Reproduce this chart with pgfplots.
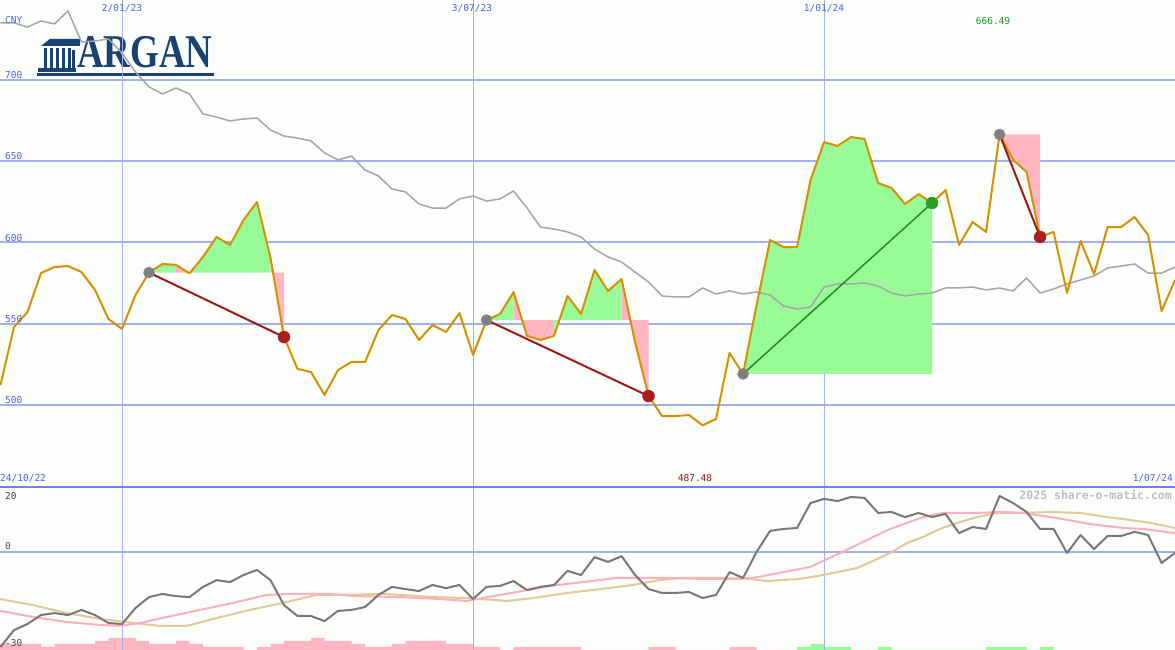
\documentclass[border=0pt]{standalone}
\usepackage{fontspec}
\setmainfont{DejaVu Sans}
\setmonofont{DejaVu Sans Mono}
\newfontfamily\logofont{Liberation Serif}
\usepackage{graphicx}
\usepackage{pgfplots}
\pgfplotsset{compat=1.18}
\definecolor{bg}{RGB}{252,254,252}
\definecolor{gridblue}{RGB}{160,176,240}
\definecolor{divblue}{RGB}{112,128,240}
\definecolor{lblblue}{RGB}{80,96,240}
\definecolor{price}{RGB}{214,144,0}
\definecolor{ma}{RGB}{165,165,165}
\definecolor{gfill}{RGB}{152,251,152}
\definecolor{pfill}{RGB}{255,182,193}
\definecolor{tred}{RGB}{160,24,24}
\definecolor{tgreen}{RGB}{34,139,34}
\definecolor{dotgray}{RGB}{128,128,128}
\definecolor{dotred}{RGB}{170,30,30}
\definecolor{dotgreen}{RGB}{40,160,40}
\definecolor{osc}{RGB}{120,120,120}
\definecolor{mapink}{RGB}{250,175,190}
\definecolor{matan}{RGB}{226,200,150}
\definecolor{logo}{RGB}{25,65,115}
\definecolor{wm}{RGB}{190,190,190}
\definecolor{lbl}{RGB}{70,70,70}
\definecolor{minred}{RGB}{160,20,20}
\definecolor{maxgreen}{RGB}{30,150,30}

\pgfplotsset{
  panel/.style={
    scale only axis, width=1175pt,
    xmin=-9.037, xmax=78.0,
    axis line style={draw=none},
    major tick length=0pt, tick style={draw=none},
    xticklabels={}, yticklabels={},
    xtick={0,52},
    extra x ticks={26}, extra x tick labels={},
    extra x tick style={grid style={line width=2pt, color=gridblue}},
    xmajorgrids, ymajorgrids,
    x grid style={line width=1pt, color=gridblue},
    y grid style={line width=2pt, color=gridblue},
    every axis plot/.append style={line join=round},
  }
}

\begin{document}
\begin{tikzpicture}
\fill[bg] (0pt,0pt) rectangle (1175pt,650pt);
% logo
\begin{scope}[x=1pt,y=1pt]
\fill[logo] (41,604) -- (80,604) -- (80,611) -- (50,611) -- cycle;
\foreach \c in {44,50,56,62,68} { \fill[logo] (\c,582) rectangle (\c+3.2,602); }
\fill[logo] (72,582) rectangle (75,600);
\fill[logo] (38,578) rectangle (76,582);
\fill[logo] (37,574) rectangle (214,577);
\node[anchor=base west, inner sep=0, text=logo] at (77,582)
  {\scalebox{0.785}[1]{\logofont\bfseries\fontsize{47}{47}\selectfont ARGAN}};
\end{scope}

% ===== top panel =====
\begin{axis}[panel, at={(0pt,163pt)}, anchor=south west, height=487pt,
  ymin=449.54, ymax=749.23, ytick={500,550,600,650,700}]
% trade 1 (entry 581.5)
\addplot[fill=gfill, draw=none] coordinates {(2,581.5) (3,586.8) (4,586.2) (4,581.5)};
\addplot[fill=pfill, draw=none] coordinates {(4,581.5) (4,586.2) (5,581.0) (5,581.5)};
\addplot[fill=gfill, draw=none] coordinates {(5,581.5) (5,581.0) (6,591.1) (7,603.4) (8,598.5) (9,613.8) (10,624.9) (11,590.5) (11,581.5)};
\addplot[fill=pfill, draw=none] coordinates {(11,581.5) (11,590.5) (12,541.8) (12,581.5)};
% trade 2 (entry 552.3)
\addplot[fill=gfill, draw=none] coordinates {(27,552.3) (28,556.0) (29,569.5) (29,552.3)};
\addplot[fill=pfill, draw=none] coordinates {(29,552.3) (29,569.5) (30,542.5) (31,540.0) (32,542.5) (32,552.3)};
\addplot[fill=gfill, draw=none] coordinates {(32,552.3) (32,542.5) (33,567.1) (34,556.0) (35,583.1) (36,570.2) (37,577.5) (37,552.3)};
\addplot[fill=pfill, draw=none] coordinates {(37,552.3) (37,577.5) (38,538.8) (39,505.5) (39,552.3)};
% trade 3 (entry 519.1)
\addplot[fill=gfill, draw=none] coordinates {(46,519.1) (47,561.5) (48,601.5) (49,597.2) (50,597.2) (51,638.5) (52,661.8) (53,659.4) (54,664.9) (55,663.7) (56,636.6) (57,633.5) (58,623.7) (59,629.8) (60,624.3) (60,519.1)};
% trade 4 (entry 666.49)
\addplot[fill=pfill, draw=none] coordinates {(65,666.49) (66,650.8) (67,643.4) (68,603.4) (68,666.49)};
% long moving average
\addplot[ma, line width=1.5pt] coordinates {
(-9,735.1) (-8,735.1) (-7,732.6) (-6,736.3) (-5,734.5) (-4,742.5) (-3,723.4) (-2,724.0) (-1,725.2) (0,716.6)
(1,704.9) (2,695.7) (3,691.4) (4,695.1) (5,691.4) (6,679.1) (7,677.2) (8,674.8) (9,676.0) (10,676.6)
(11,669.2) (12,665.5) (13,664.3) (14,662.5) (15,655.1) (16,650.8) (17,653.2) (18,644.6) (19,640.9) (20,632.9)
(21,631.1) (22,623.7) (23,621.2) (24,621.2) (25,626.8) (26,628.6) (27,625.5) (28,626.8) (29,631.7) (30,621.2)
(31,609.5) (32,608.3) (33,606.5) (34,603.4) (35,596.0) (36,591.1) (37,588.0) (38,581.8) (39,575.7) (40,567.1)
(41,566.5) (42,566.5) (43,572.0) (44,568.3) (45,570.2) (46,568.3) (47,569.5) (48,567.7) (49,560.9) (50,559.1)
(51,560.3) (52,572.6) (53,574.5) (54,574.5) (55,575.1) (56,573.2) (57,568.9) (58,567.1) (59,568.3) (60,568.9)
(61,572.0) (62,572.0) (63,572.6) (64,570.8) (65,572.0) (66,570.2) (67,578.2) (68,568.9) (69,571.4) (70,574.5)
(71,576.9) (72,579.4) (73,584.3) (74,585.5) (75,586.8) (76,581.2) (77,581.2) (78,584.9)};
% entry dots
\addplot[only marks, mark=*, mark size=5.5pt, mark options={fill=dotgray, draw=dotgray}]
  coordinates {(2,581.5) (27,552.3) (46,519.1) (65,666.49)};
% price
\addplot[price, line width=2pt] coordinates {
(-9,512.3) (-8,548.0) (-7,557.2) (-6,581.2) (-5,584.9) (-4,585.5) (-3,581.8) (-2,570.8) (-1,552.9) (0,546.8)
(1,567.7) (2,581.5) (3,586.8) (4,586.2) (5,581.0) (6,591.1) (7,603.4) (8,598.5) (9,613.8) (10,624.9)
(11,590.5) (12,541.8) (13,522.2) (14,520.3) (15,506.2) (16,521.5) (17,526.5) (18,526.5) (19,546.2) (20,555.4)
(21,552.9) (22,540.0) (23,549.2) (24,544.9) (25,556.6) (26,530.8) (27,552.3) (28,556.0) (29,569.5) (30,542.5)
(31,540.0) (32,542.5) (33,567.1) (34,556.0) (35,583.1) (36,570.2) (37,577.5) (38,538.8) (39,505.5) (40,493.2)
(41,493.2) (42,493.8) (43,487.48) (44,491.4) (45,532.0) (46,519.1) (47,561.5) (48,601.5) (49,597.2) (50,597.2)
(51,638.5) (52,661.8) (53,659.4) (54,664.9) (55,663.7) (56,636.6) (57,633.5) (58,623.7) (59,629.8) (60,624.3)
(61,632.3) (62,598.5) (63,612.6) (64,606.5) (65,666.49) (66,650.8) (67,643.4) (68,603.4) (69,606.5) (70,568.9)
(71,600.9) (72,580.6) (73,609.5) (74,609.5) (75,615.7) (76,604.6) (77,557.8) (78,576.9)};
% trade lines
\addplot[tred, line width=2pt] coordinates {(2,581.5) (12,541.8)};
\addplot[tred, line width=2pt] coordinates {(27,552.3) (39,505.5)};
\addplot[tgreen, line width=1.5pt] coordinates {(46,519.1) (60,624.3)};
\addplot[tred, line width=2pt] coordinates {(65,666.49) (68,603.4)};
% exit dots
\addplot[only marks, mark=*, mark size=6pt, mark options={fill=dotred, draw=dotred}]
  coordinates {(12,541.8) (39,505.5) (68,603.4)};
\addplot[only marks, mark=*, mark size=6pt, mark options={fill=dotgreen, draw=dotgreen}]
  coordinates {(60,624.3)};
\end{axis}

% ===== bottom panel: volume-like bars =====
\begin{axis}[at={(0pt,0pt)}, anchor=south west, scale only axis, width=1175pt, height=163pt,
  xmin=-9.037, xmax=78.0, ymin=0, ymax=54.333, hide axis]
\addplot[fill=pfill, draw=none, const plot mark left] coordinates {
(-9.037,2) (-6,1) (-5,2) (-2,3) (-1,4) (1,3) (2,2) (4,3) (5,2) (6,1) (9,0) (10,1) (11,2) (12,3) (14,4) (15,3)
(17,2) (18,1) (20,2) (21,3) (24,2) (26,1) (28,0) (29,1) (34,0) (39,1) (41,0) (45,1) (47,0) (49,0)} \closedcycle;
\addplot[fill=gfill, draw=none, const plot mark left] coordinates {
(50,1) (51,2) (52,1) (54,0) (56,1) (57,0) (64,1) (67,0) (68,1) (69,0)} \closedcycle;
\end{axis}

% ===== bottom panel: oscillator =====
\begin{axis}[panel, at={(0pt,0pt)}, anchor=south west, height=163pt,
  ymin=-30.625, ymax=20.31, ytick={0}]
\addplot[matan, line width=2pt] coordinates {
(-9.04,-14.7) (-6.59,-16.6) (-4.07,-19.1) (-1.63,-20.9) (0.81,-22.2) (2.81,-23.1) (4.81,-23.1) (7.04,-20.6)
(9.48,-18.1) (11.93,-15.9) (14.44,-13.4) (16.89,-13.4) (19.33,-13.1) (20.59,-13.4) (23.04,-14.1) (25.56,-14.4)
(28.52,-15.3) (30.44,-14.4) (32.96,-12.8) (35.41,-11.6) (37.85,-10.3) (39.85,-8.75) (41.56,-8.1) (44.07,-8.1)
(46.52,-8.4) (47.78,-9.1) (50.22,-8.4) (51.93,-7.2) (54.44,-5.0) (55.63,-2.8) (56.89,-0.3) (58.15,2.8)
(59.33,4.7) (60.59,7.2) (61.85,9.1) (63.33,10.9) (64.81,12.2) (66.74,12.2) (68.74,12.5) (70.96,12.2)
(72.96,10.9) (74.15,10.3) (76.15,9.1) (78.0,7.5)};
\addplot[mapink, line width=2pt] coordinates {
(-9.04,-18.4) (-6.59,-20.3) (-4.07,-21.9) (-1.63,-22.8) (-0.15,-23.1) (1.33,-22.2) (3.33,-20.3) (5.78,-18.1)
(8.22,-15.9) (10.74,-13.4) (12.44,-13.1) (15.41,-13.1) (17.11,-13.75) (20.59,-14.1) (23.56,-14.7) (25.56,-15.3)
(27.04,-14.1) (29.26,-12.5) (31.70,-10.6) (34.15,-9.4) (36.67,-8.1) (37.85,-8.1) (40.37,-8.1) (42.81,-8.4)
(45.26,-8.4) (46.74,-8.1) (48.22,-6.9) (49.48,-5.9) (50.96,-4.7) (51.93,-2.8) (53.19,-0.3) (54.44,2.2)
(55.63,4.7) (56.89,7.2) (58.15,9.1) (59.33,10.9) (60.81,12.2) (63.04,12.2) (65.26,12.5) (66.74,12.2)
(69.26,10.6) (71.70,8.75) (74.15,7.5) (75.63,7.2) (78.0,5.9)};
\addplot[osc, line width=2pt] coordinates {
(-9,-29.7) (-8,-24.4) (-7,-22.5) (-6,-19.7) (-5,-19.1) (-4,-19.7) (-3,-18.1) (-2,-19.7) (-1,-22.2) (0,-22.5)
(1,-17.5) (2,-14.1) (3,-13.1) (4,-13.8) (5,-14.1) (6,-10.9) (7,-8.8) (8,-9.4) (9,-7.2) (10,-5.6)
(11,-8.8) (12,-16.6) (13,-20.0) (14,-20.0) (15,-21.6) (16,-18.4) (17,-18.1) (18,-17.2) (19,-13.4) (20,-10.9)
(21,-11.6) (22,-12.2) (23,-10.3) (24,-11.3) (25,-10.3) (26,-14.7) (27,-10.9) (28,-10.6) (29,-9.1) (30,-11.9)
(31,-10.9) (32,-10.3) (33,-5.9) (34,-7.2) (35,-1.6) (36,-3.1) (37,-1.3) (38,-7.2) (39,-11.6) (40,-12.8)
(41,-12.8) (42,-12.5) (43,-14.4) (44,-13.4) (45,-6.3) (46,-8.1) (47,0.0) (48,6.6) (49,7.2) (50,7.5)
(51,15.3) (52,16.6) (53,15.9) (54,17.2) (55,16.9) (56,12.2) (57,12.5) (58,10.9) (59,12.2) (60,10.9)
(61,11.9) (62,5.9) (63,7.8) (64,7.2) (65,17.5) (66,15.3) (67,12.5) (68,7.2) (69,7.2) (70,-0.3)
(71,5.3) (72,0.9) (73,5.0) (74,5.0) (75,6.3) (76,5.3) (77,-3.4) (78,-0.3)};
\end{axis}

% divider and labels
\begin{scope}[x=1pt,y=1pt, every node/.style={inner sep=0pt, font=\ttfamily\fontsize{9.5}{10}\selectfont}]
\draw[divblue, line width=2pt] (0,163) -- (1175,163);
\node[anchor=west, text=lblblue] at (5,630) {CNY};
\node[anchor=west, text=lblblue] at (5,575) {700};
\node[anchor=west, text=lblblue] at (5,494) {650};
\node[anchor=west, text=lblblue] at (5,412) {600};
\node[anchor=west, text=lblblue] at (5,331) {550};
\node[anchor=west, text=lblblue] at (5,250) {500};
\node[text=lblblue] at (122,642) {2/01/23};
\node[text=lblblue] at (472,642) {3/07/23};
\node[text=lblblue] at (824,642) {1/01/24};
\node[text=maxgreen] at (993,629) {666.49};
\node[anchor=west, text=lblblue] at (0,172) {24/10/22};
\node[text=minred] at (695,172) {487.48};
\node[anchor=east, text=lblblue] at (1173,172) {1/07/24};
\node[anchor=east, text=wm, font=\ttfamily\bfseries\fontsize{11.5}{12}\selectfont] at (1172,155) {2025 share-o-matic.com};
\node[anchor=west, text=lbl] at (5,154) {20};
\node[anchor=west, text=lbl] at (5,104) {0};
\node[anchor=west, text=lbl] at (5,7) {-30};
\end{scope}
\pgfresetboundingbox
\path[use as bounding box] (0pt,0pt) rectangle (1175pt,650pt);
\end{tikzpicture}
\end{document}
